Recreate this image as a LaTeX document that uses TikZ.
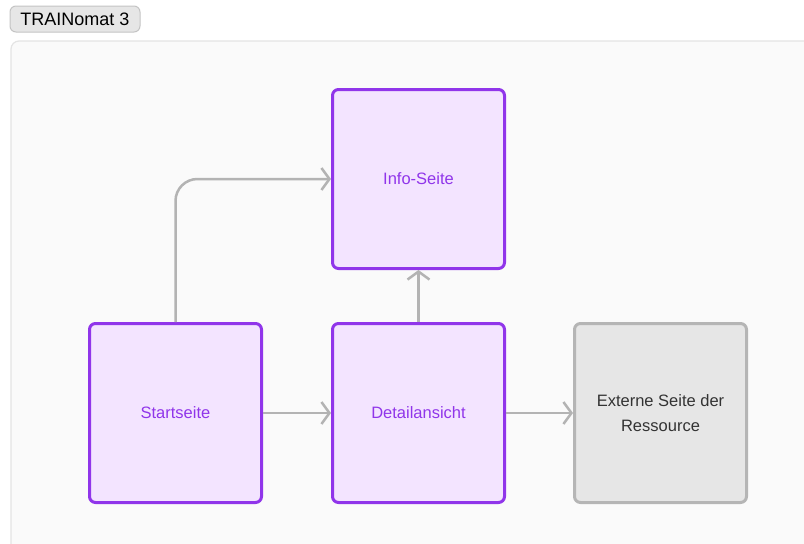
\documentclass[tikz,border=0pt]{standalone}
\usepackage{fontspec}
\setmainfont{Liberation Sans}
\usetikzlibrary{arrows.meta}
\definecolor{purpleline}{HTML}{9035EA}
\definecolor{purplefill}{HTML}{F3E4FF}
\definecolor{purpletext}{HTML}{9035EA}
\definecolor{grayline}{HTML}{B5B5B5}
\definecolor{grayfill}{HTML}{E6E6E6}
\definecolor{conn}{HTML}{B3B3B3}
\definecolor{panelfill}{HTML}{FAFAFA}
\definecolor{panelline}{HTML}{E4E4E4}
\definecolor{tagfill}{HTML}{E6E6E6}
\definecolor{tagline}{HTML}{C4C4C4}
\tikzset{
  pagebox/.style={draw=purpleline, fill=purplefill, line width=3pt, rounded corners=6pt,
    minimum width=172pt, minimum height=179pt, inner sep=0pt, text=purpletext,
    font=\fontsize{16.5}{20}\selectfont, align=center},
  extbox/.style={pagebox, draw=grayline, fill=grayfill, text={black!80}, font=\fontsize{16.5}{25}\selectfont},
  link/.style={draw=conn, line width=2.5pt, -{Straight Barb[length=8pt,width=22pt,line width=2.5pt]}},
}
\begin{document}
\begin{tikzpicture}[x=1pt,y=-1pt]
\useasboundingbox (0,0) rectangle (804,544);
\fill[white] (0,0) rectangle (804,544);
\draw[fill=panelfill, draw=panelline, line width=1.2pt, rounded corners=8pt] (11,41) rectangle (830,570);
\node[draw=tagline, fill=tagfill, line width=1pt, rounded corners=6pt, minimum width=130pt, minimum height=26pt,
  inner sep=0pt, font=\fontsize{18}{20}\selectfont] (tag) at (75,19) {TRAINomat 3};
\node[pagebox] (info) at (418.5,179) {Info-Seite};
\node[pagebox] (start) at (175.5,413) {Startseite};
\node[pagebox] (detail) at (418.5,413) {Detailansicht};
\node[extbox] (ext) at (660.5,413) {Externe Seite der\\Ressource};
\draw[link] (start) -- (detail);
\draw[link] (detail) -- (info);
\draw[link] (detail) -- (ext);
\draw[link, rounded corners=22pt] (start.north) |- (info.west);
\end{tikzpicture}
\end{document}
